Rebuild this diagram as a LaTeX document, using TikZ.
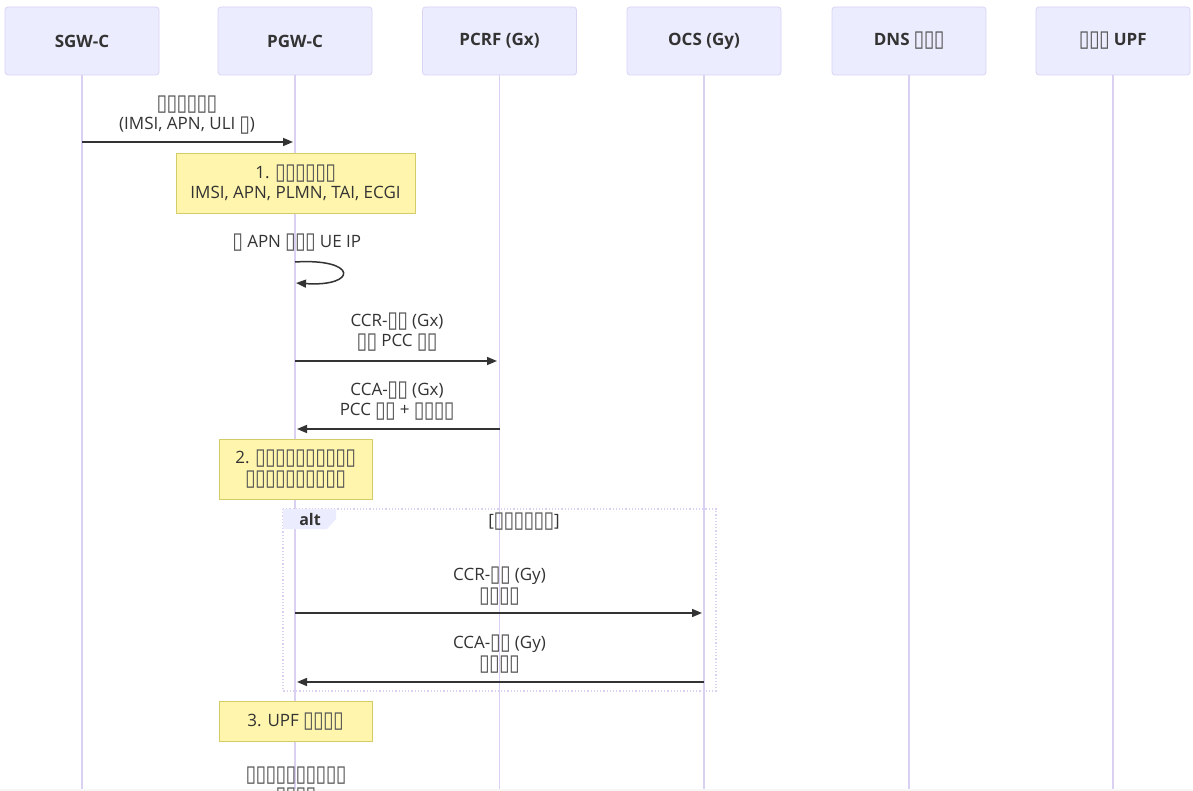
\documentclass[tikz,border=0pt]{standalone}
\usepackage{fontspec}
\setmainfont{Open Sans}
\newfontfamily\dejavu{DejaVu Sans}
\usetikzlibrary{arrows.meta}
\definecolor{actfill}{HTML}{ECECFF}
\definecolor{actdraw}{HTML}{DAD4F4}
\definecolor{life}{HTML}{D9D0F2}
\definecolor{notefill}{HTML}{FFF5AD}
\definecolor{notedraw}{HTML}{D4CC66}
\definecolor{txt}{HTML}{333333}
\definecolor{tofu}{HTML}{555555}
\newcommand\tf{\kern-0.02em\raisebox{-0.08em}{\resizebox{0.63em}{0.86em}{\dejavu\color{tofu}\char"25AF}}\kern-0.02em}
\newcommand\tfn[1]{\foreach\i in {1,...,#1}{\tf}}
\tikzset{
  actor/.style={draw=actdraw, fill=actfill, rounded corners=3pt, minimum width=154pt, minimum height=68pt, font=\fontsize{17}{20}\selectfont\bfseries, text=txt, line width=0.8pt},
  lifeline/.style={draw=life, line width=1.6pt},
  msg/.style={draw=txt, line width=1.5pt, -{Triangle[length=10pt,width=8pt]}},
  lbl/.style={align=center, font=\fontsize{17}{20.5}\selectfont, text=txt, inner sep=0pt},
  note/.style={draw=notedraw, fill=notefill, line width=0.8pt, align=center, font=\fontsize{17}{20.5}\selectfont, text=txt, inner sep=0pt},
}
\begin{document}
\begin{tikzpicture}[x=1pt,y=-1pt]
\useasboundingbox (0,0) rectangle (1193,791);
\fill[white] (0,0) rectangle (1193,791);
\fill[black!3] (0,789) rectangle (1193,791);
% actors
\node[actor] (a1) at (82,41) {SGW-C};
\node[actor] (a2) at (295,41) {PGW-C};
\node[actor] (a3) at (499.5,41) {PCRF (Gx)};
\node[actor] (a4) at (704,41) {OCS (Gy)};
\node[actor] (a5) at (909,41) {DNS \tfn{3}};
\node[actor] (a6) at (1113,41) {\tfn{3} UPF};
% lifeline ends
\coordinate (e1) at (82,789);
\coordinate (e2) at (295,789);
\coordinate (e3) at (499.5,789);
\coordinate (e4) at (704,789);
\coordinate (e5) at (909,789);
\coordinate (e6) at (1113,789);
\foreach \k in {1,...,6}{\draw[lifeline] (a\k.south) -- (e\k);}
% alt frame
\draw[draw=life, line width=1.2pt, dotted] (283,509) rectangle (716,691);
\fill[actfill] (283,509) -- (336,509) -- (336,519) -- (327,529) -- (283,529) -- cycle;
\node[lbl, font=\fontsize{16}{18}\selectfont\bfseries] (altl) at (310,519) {alt};
\node[lbl] (altc) at (524,522) {[\tfn{6}]};
% message 1
\coordinate (m1a) at (82,142);
\coordinate (m1b) at (293,142);
\draw[msg] (m1a) -- (m1b);
\node[lbl] (l1) at (187,115) {\tfn{6}\\(IMSI, APN, ULI \tf)};
% note 1
\node[note, minimum width=239pt, minimum height=60pt] (n1) at (295.5,183) {1. \tfn{6}\\IMSI, APN, PLMN, TAI, ECGI};
% self message
\node[lbl] (l2) at (297,243) {\tf{} APN \tfn{3} UE IP};
\coordinate (s1) at (295,262);
\coordinate (s2) at (296,283);
\draw[msg] (s1) .. controls (358,258) and (358,287) .. (s2);
% CCR Gx
\coordinate (m3a) at (295,361);
\coordinate (m3b) at (497,361);
\draw[msg] (m3a) -- (m3b);
\node[lbl] (l3) at (397,332) {CCR-\tfn{2} (Gx)\\\tfn{2} PCC \tfn{2}};
% CCA Gx
\coordinate (m4a) at (499.5,429);
\coordinate (m4b) at (297,429);
\draw[msg] (m4a) -- (m4b);
\node[lbl] (l4) at (397,401) {CCA-\tfn{2} (Gx)\\PCC \tfn{2} + \tfn{4}};
% note 2
\node[note, minimum width=153pt, minimum height=60pt] (n2) at (295.5,469) {2. \tfn{10}\\\tfn{10}};
% CCR Gy
\coordinate (m5a) at (295,613);
\coordinate (m5b) at (702,613);
\draw[msg] (m5a) -- (m5b);
\node[lbl] (l5) at (499.5,586) {CCR-\tfn{2} (Gy)\\\tfn{4}};
% CCA Gy
\coordinate (m6a) at (704,682);
\coordinate (m6b) at (297,682);
\draw[msg] (m6a) -- (m6b);
\node[lbl] (l6) at (499.5,654) {CCA-\tfn{2} (Gy)\\\tfn{4}};
% note 3
\node[note, minimum width=153pt, minimum height=40pt] (n3) at (295.5,721.5) {3. UPF \tfn{4}};
% bottom label
\node[lbl, anchor=north] (l7) at (296,767) {\tfn{10}\\\tfn{4}};
\end{tikzpicture}
\end{document}
